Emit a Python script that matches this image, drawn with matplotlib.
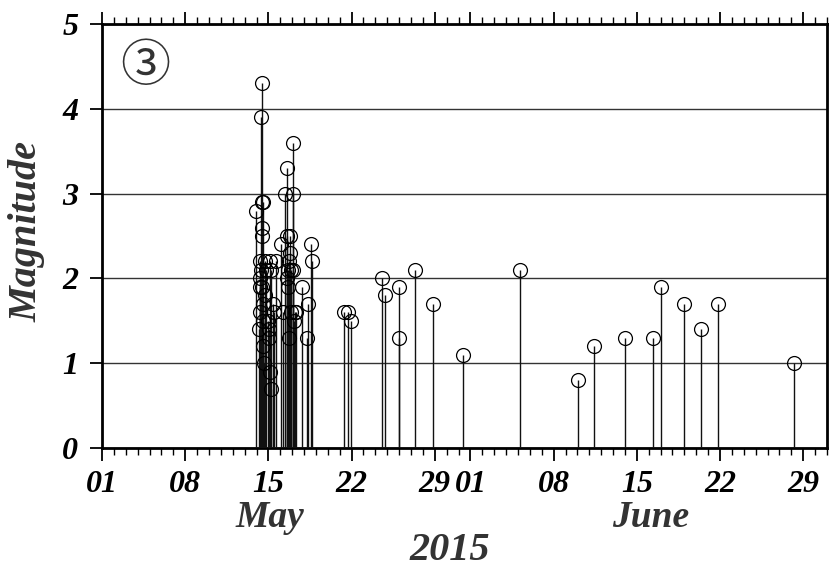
import matplotlib
matplotlib.use("Agg")
import matplotlib.pyplot as plt
from matplotlib.ticker import FixedLocator, MultipleLocator, FixedFormatter

# Event times: days since 2015-05-01 00:00, and magnitudes
event_day = [
    12.92, 13.18, 13.26, 13.27, 13.30, 13.31, 13.34, 13.39, 13.43, 13.47,
    13.48, 13.49, 13.46, 13.51, 13.52, 13.55, 13.56, 13.60, 13.68, 13.72,
    13.81, 13.97, 14.02, 14.06, 14.10, 14.14, 14.18, 14.23, 14.35, 14.44,
    14.65, 15.03, 15.24, 15.40, 15.53, 15.54, 15.57, 15.61, 15.66, 15.70,
    15.74, 15.78, 15.79, 15.87, 15.91, 16.03, 16.08, 16.07, 16.12, 16.20,
    16.33, 16.79, 17.21, 17.34, 17.59, 17.71,
    20.40, 20.66, 20.91, 23.53, 23.81, 24.96, 24.97, 26.33, 27.82, 30.39,
    35.21, 40.08, 41.37, 44.00, 46.39, 47.03, 48.96, 50.42, 51.85, 58.26,
]
magnitude = [
    2.8, 1.4, 2.2, 1.9, 1.6, 2.0, 2.1, 3.9, 2.9, 4.3,
    2.6, 2.5, 1.9, 1.7, 1.5, 2.9, 1.2, 1.0, 2.2, 1.8,
    2.1, 1.5, 1.3, 1.4, 2.2, 0.9, 0.7, 2.1, 1.7, 1.6,
    2.2, 2.4, 1.6, 3.0, 3.3, 2.5, 2.0, 1.9, 2.1, 2.2,
    1.3, 2.5, 2.3, 1.6, 2.1, 2.1, 3.6, 3.0, 1.5, 1.6,
    1.6, 1.9, 1.3, 1.7, 2.4, 2.2,
    1.6, 1.6, 1.5, 2.0, 1.8, 1.9, 1.3, 2.1, 1.7, 1.1,
    2.1, 0.8, 1.2, 1.3, 1.3, 1.9, 1.7, 1.4, 1.7, 1.0,
]

major_days = [0, 7, 14, 21, 28, 31, 38, 45, 52, 59]
major_labels = ["01", "08", "15", "22", "29", "01", "08", "15", "22", "29"]
y_ticks = [0, 1, 2, 3, 4, 5]
month_labels = ["May", "June"]
month_centers = [14.1, 46.2]
year_label = "2015"
panel_label = "③"

W, H = 830, 568
fig = plt.figure(figsize=(W / 100, H / 100), dpi=100)
ax = fig.add_axes([102 / W, 1 - 448 / H, (827 - 102) / W, (448 - 24) / H])

serif = ["Liberation Serif", "DejaVu Serif"]

ax.vlines(event_day, 0, magnitude, colors="#111111", linewidth=1.0, zorder=3)
ax.plot(event_day, magnitude, linestyle="none", marker="o", markersize=10,
        markerfacecolor="none", markeredgecolor="black", markeredgewidth=0.9, zorder=4)

ax.set_xlim(0, 61)
ax.set_ylim(0, 5)

ax.xaxis.set_major_locator(FixedLocator(major_days))
ax.xaxis.set_major_formatter(FixedFormatter(major_labels))
ax.xaxis.set_minor_locator(MultipleLocator(1))
ax.set_yticks(y_ticks)
ax.set_yticklabels([str(v) for v in y_ticks])

ax.tick_params(axis="x", which="major", direction="out", length=9, width=1.3,
               top=True, bottom=True, pad=7)
ax.tick_params(axis="x", which="minor", direction="out", length=5, width=1.0,
               top=True, bottom=True)
ax.tick_params(axis="y", which="major", direction="out", length=9, width=1.3,
               left=True, right=False, pad=8)

for lab in ax.get_xticklabels() + ax.get_yticklabels():
    lab.set_fontfamily(serif)
    lab.set_fontweight("bold")
    lab.set_fontstyle("italic")
    lab.set_fontsize(23)
    lab.set_color("black")

ax.yaxis.grid(True, color="#333333", linewidth=1.0)
ax.set_axisbelow(True)
for s in ax.spines.values():
    s.set_linewidth(2.0)
    s.set_color("black")

fig.text(27 / W, 1 - 232 / H, "Magnitude", rotation=90, ha="center", va="center",
         fontfamily=serif, fontweight="bold", fontstyle="italic", fontsize=29,
         color="#333333")

for name, c in zip(month_labels, month_centers):
    ax.text(c, -(500 - 448) / (448 - 24), name, transform=ax.get_xaxis_transform(),
            ha="center", va="top", fontfamily=serif, fontweight="bold",
            fontstyle="italic", fontsize=27, color="#333333")

fig.text(450 / W, 1 - 550 / H, year_label, ha="center", va="center",
         fontfamily=serif, fontweight="bold", fontstyle="italic", fontsize=29,
         color="#333333")

fig.text(145 / W, 1 - 67 / H, panel_label, ha="center", va="center",
         fontfamily=["Noto Sans CJK JP", "DejaVu Sans"], fontsize=36, color="#333333")

fig.savefig("out.png", dpi=100)
